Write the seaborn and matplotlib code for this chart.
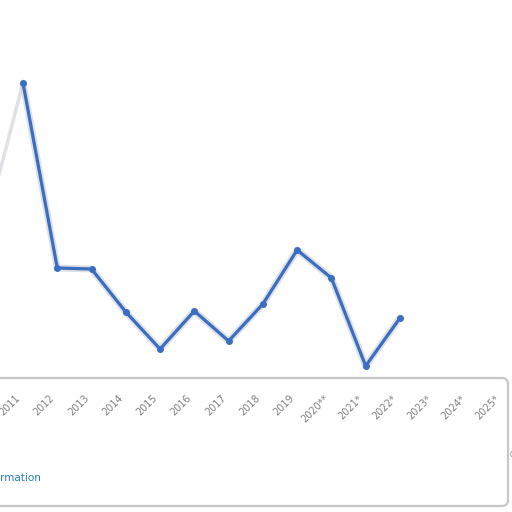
import matplotlib
matplotlib.use("Agg")
import matplotlib.pyplot as plt
import seaborn as sns
import pandas as pd
from matplotlib.patches import FancyBboxPatch

# values (arbitrary units, no axis shown)
years = [2010, 2011, 2012, 2013, 2014, 2015, 2016, 2017, 2018, 2019, 2020, 2021, 2022]
values = [16.6, 29.7, 11.2, 11.1, 6.8, 3.1, 6.9, 3.9, 7.6, 13.0, 10.2, 1.4, 6.2]
tick_years = list(range(2011, 2026))
tick_labels = ["2011", "2012", "2013", "2014", "2015", "2016", "2017", "2018",
               "2019", "2020**", "2021*", "2022*", "2023*", "2024*", "2025*"]

df = pd.DataFrame({"year": years, "value": values})

sns.set_style("white")
fig = plt.figure(figsize=(5.12, 5.12), dpi=100)
fig.patch.set_facecolor("white")

# bottom panel with the year labels
box = FancyBboxPatch((-8 / 512, 6 / 512), 516 / 512, 128 / 512,
                     boxstyle="round,pad=0,rounding_size=0.012",
                     transform=fig.transFigure, facecolor="white",
                     edgecolor="#c8c8c8", linewidth=1.6)
fig.patches.append(box)

ax = fig.add_axes([0, 134 / 512, 1, 378 / 512])
ax.set_xlim(2010.329, 2025.27)
ax.set_ylim(0.2, 38)
ax.axis("off")

# faint first segment, then the main series
first = df[df["year"] <= 2011]
main = df[df["year"] >= 2011]
ax.plot(first["year"], first["value"], color="#dfe1e4", linewidth=2.5)
ax.plot(main["year"], main["value"], color="#c9ccd1", linewidth=5, alpha=0.6)
sns.lineplot(data=main, x="year", y="value", ax=ax, color="#3a6ec3",
             linewidth=2.3, marker="o", markersize=5, markeredgewidth=0)

# rotated year labels inside the bottom panel
for yr, lab in zip(tick_years, tick_labels):
    x = (yr - 2010.329) / (2025.27 - 2010.329) - 8 / 512
    fig.text(x, 1 - 393 / 512, lab, rotation=45, ha="right", va="top",
             rotation_mode="anchor", fontsize=7, color="#808080")

fig.text(0, 1 - 478 / 512, "rmation", fontsize=7.5, color="#2b7bb9",
         ha="left", va="center")
fig.text(0.993, 1 - 455 / 512, "©", fontsize=7, color="#888888",
         ha="left", va="center")

fig.savefig("out.png", dpi=100, facecolor="white")
